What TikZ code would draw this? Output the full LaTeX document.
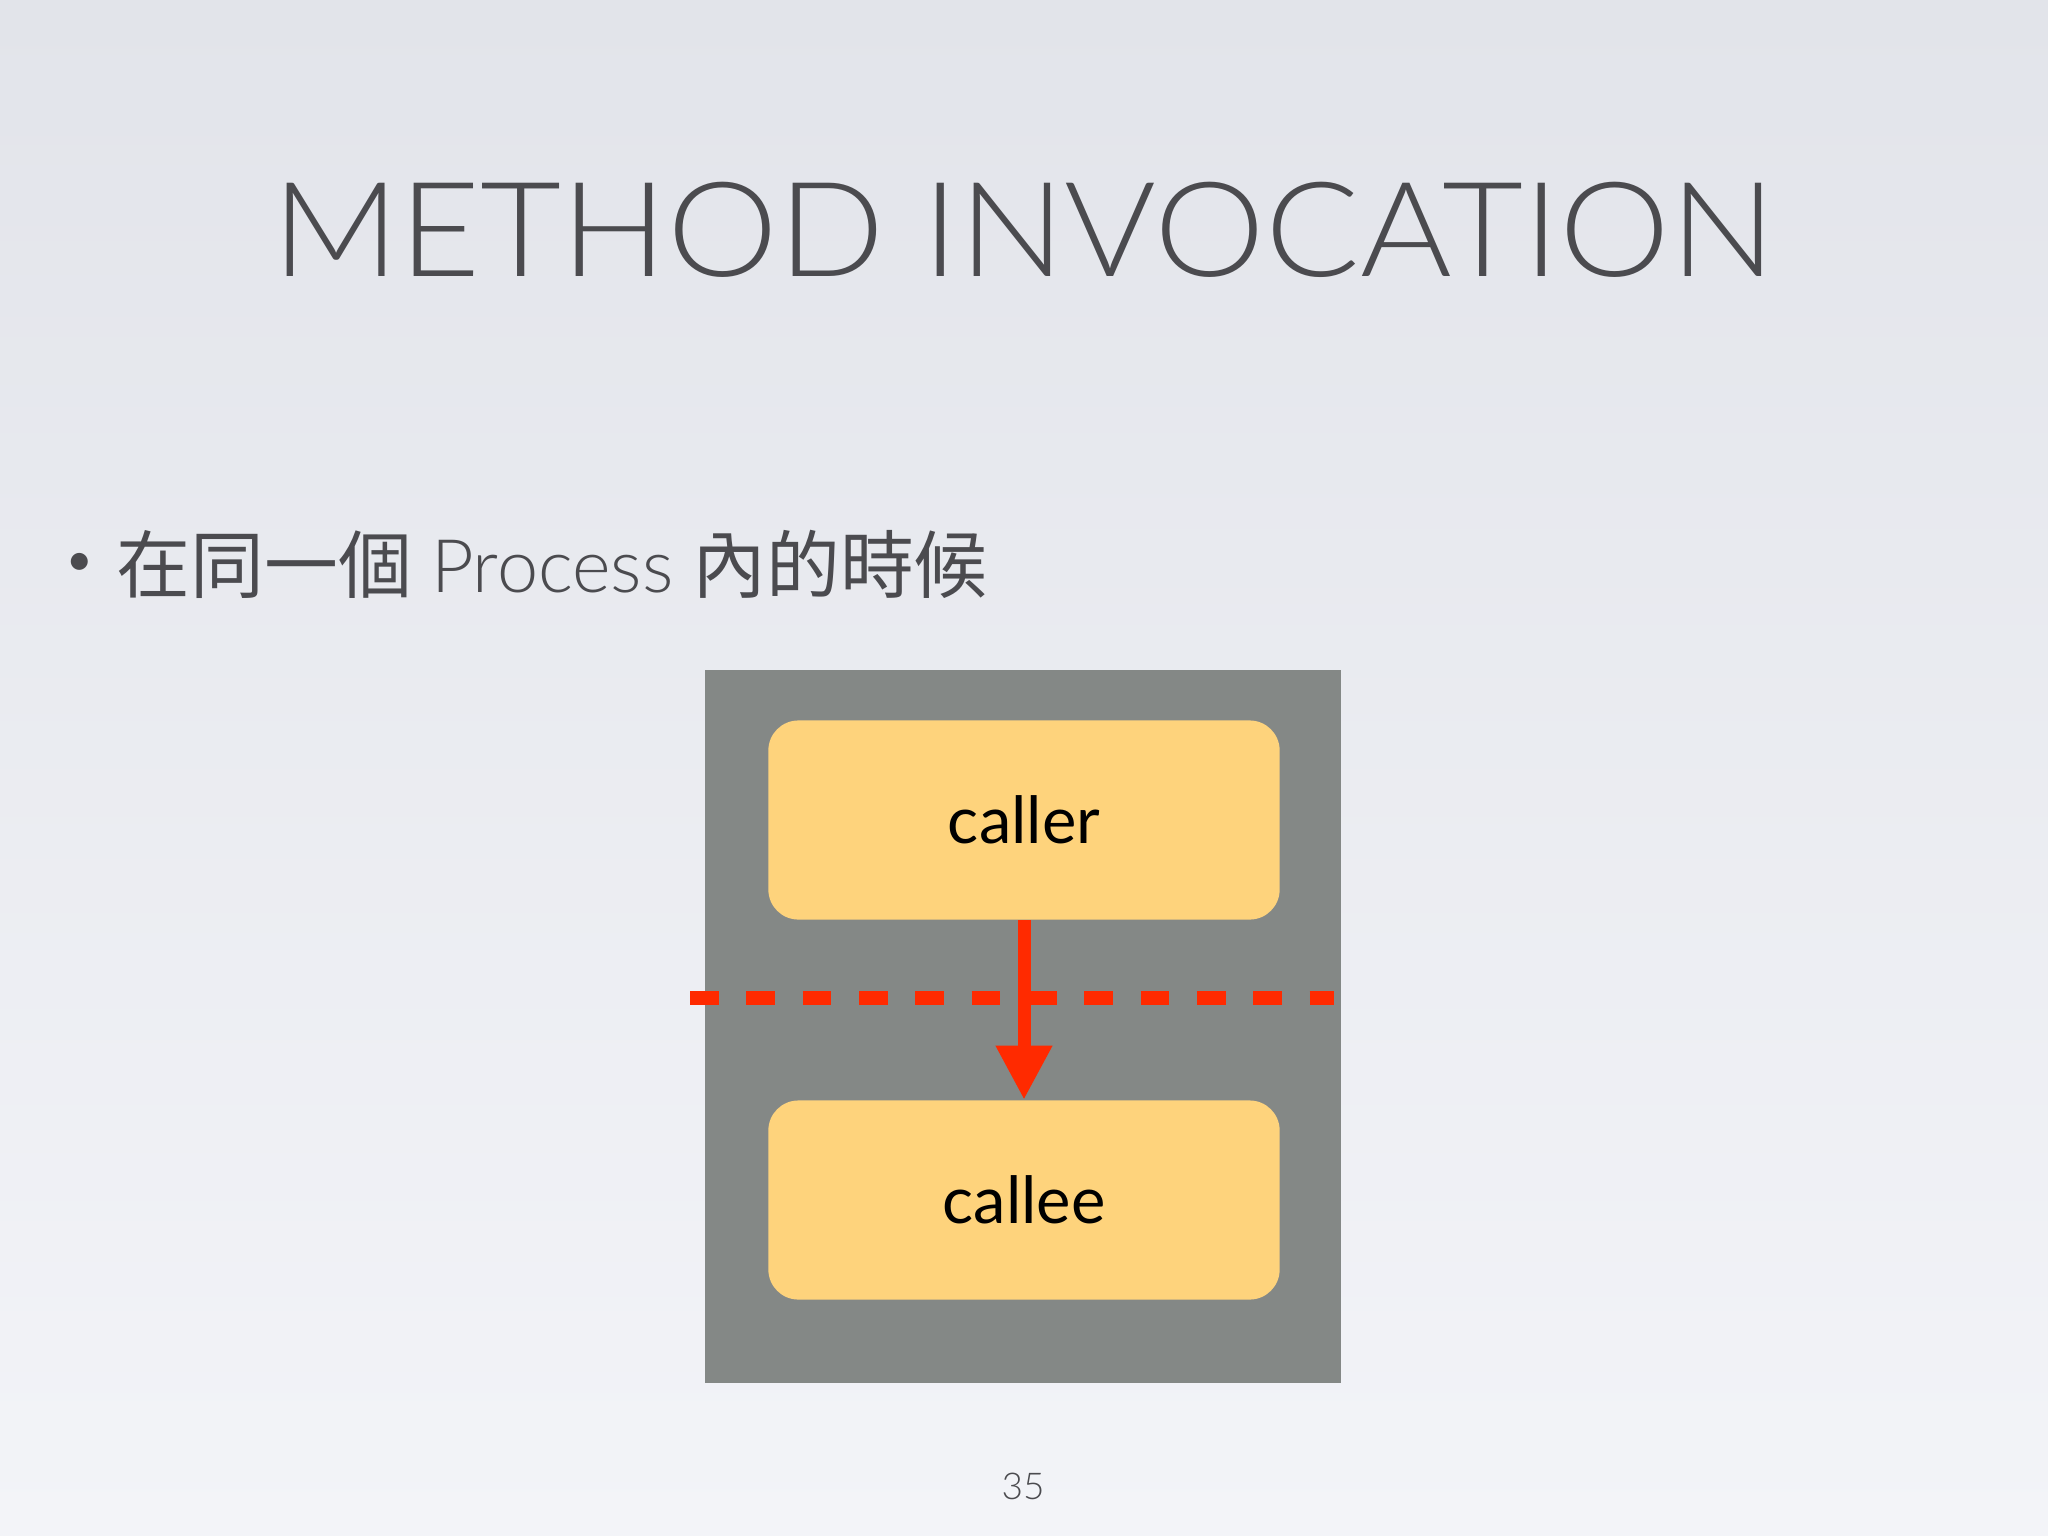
\documentclass[tikz,border=0pt]{standalone}
\usepackage{fontspec}
\setmainfont{Lato}
\newfontfamily\titlefont{Lato Light}
\newfontfamily\cjk{Noto Sans CJK TC}
\usetikzlibrary{arrows.meta}
\definecolor{slidetop}{HTML}{E2E4EA}
\definecolor{slidebot}{HTML}{F3F4F8}
\definecolor{inkgray}{HTML}{4B4B4F}
\definecolor{procgray}{HTML}{848886}
\definecolor{boxyellow}{HTML}{FED37C}
\definecolor{callred}{HTML}{FF2A00}
\tikzset{
  frame/.style={rectangle, rounded corners=0.3cm, fill=boxyellow,
    minimum width=5.11cm, minimum height=1.99cm, inner sep=0pt,
    font=\fontsize{18.5}{20}\selectfont},
  call/.style={line width=0.13cm, callred, -{Triangle[length=0.54cm,width=0.53cm]}},
  border/.style={line width=0.14cm, callred, dash pattern=on 0.286cm off 0.277cm}
}
\begin{document}
\begin{tikzpicture}[x=0.01cm,y=-0.01cm]
      \shade[top color=slidetop, bottom color=slidebot] (0,0) rectangle (2048,1536);
      \useasboundingbox (0,0) rectangle (2048,1536);
      \node[inkgray, xscale=1.062, font=\titlefont\fontsize{37.5}{40}\selectfont] (title) at (1024,230) {METHOD INVOCATION};
      \node[inkgray, font=\fontsize{13}{14}\selectfont] (dot) at (80,564) {\textbullet};
      \node[inkgray, anchor=west, inner sep=0pt, font=\fontsize{21}{24}\selectfont] (point) at (116,564)
        {{\cjk 在同一個} {\titlefont Process} {\cjk 內的時候}};
      \fill[procgray] (705,670) rectangle (1341,1383);
      \draw
        (1024,820) node[frame] (caller){caller}
        (1024,1200) node[frame] (callee){callee};
      \coordinate (cutl) at (690,998);
      \coordinate (cutr) at (1334,998);
      \begin{scope}
        \draw[border] (cutl) -- (cutr);
        \draw[call] (caller) -- (callee);
      \end{scope}
      \node[inkgray, font=\titlefont\fontsize{10.5}{12}\selectfont] (page) at (1023,1486) {35};
    \end{tikzpicture}
\end{document}
